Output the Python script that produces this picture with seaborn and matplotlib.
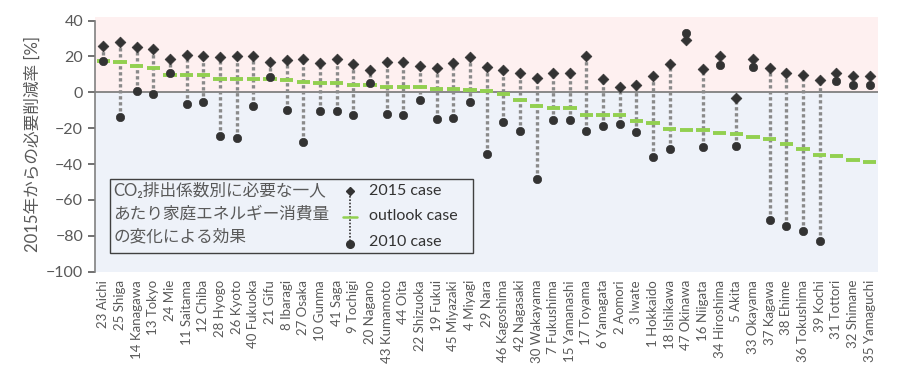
import pandas as pd
import matplotlib.pyplot as plt
import matplotlib.patches as mpatches
import seaborn as sns

# prefecture order on the x axis
prefs = ['23 Aichi', '25 Shiga', '14 Kanagawa', '13 Tokyo', '24 Mie', '11 Saitama', '12 Chiba',
         '28 Hyogo', '26 Kyoto', '40 Fukuoka', '21 Gifu', '8 Ibaragi', '27 Osaka', '10 Gunma',
         '41 Saga', '9 Tochigi', '20 Nagano', '43 Kumamoto', '44 Oita', '22 Shizuoka', '19 Fukui',
         '45 Miyazaki', '4 Miyagi', '29 Nara', '46 Kagoshima', '42 Nagasaki', '30 Wakayama',
         '7 Fukushima', '15 Yamanashi', '17 Toyama', '6 Yamagata', '2 Aomori', '3 Iwate',
         '1 Hokkaido', '18 Ishikawa', '47 Okinawa', '16 Niigata', '34 Hiroshima', '5 Akita',
         '33 Okayama', '37 Kagawa', '38 Ehime', '36 Tokushima', '39 Kochi', '31 Tottori',
         '32 Shimane', '35 Yamaguchi']

case_2015 = [25.6, 28.3, 25.0, 23.9, 18.3, 20.9, 20.0, 19.4, 20.0, 20.0, 17.0, 17.8, 18.3, 16.3,
             18.3, 15.6, 12.4, 17.0, 17.0, 14.6, 13.5, 16.1, 19.4, 13.9, 12.4, 10.6, 7.8,
             10.9, 10.6, 20.2, 7.2, 2.8, 3.9, 8.9, 15.7, 29.4, 12.8, 20.2, -3.1,
             18.5, 13.5, 10.9, 9.4, 6.9, 10.9, 9.1, 9.1]

outlook = [17.2, 16.7, 14.6, 13.5, 9.8, 9.6, 9.6, 7.6, 7.6, 7.6, 7.6, 6.7, 5.9, 5.2,
           5.2, 4.3, 4.3, 3.1, 3.1, 3.1, 2.0, 1.7, 1.1, 0.6, -0.7, -4.4, -7.6,
           -8.9, -8.9, -12.6, -12.6, -12.6, -15.9, -17.0, -20.4, -20.9, -20.9, -22.6, -23.1,
           -25.0, -26.1, -29.1, -31.5, -35.2, -35.6, -37.6, -38.7]

case_2010 = [17.6, -13.9, 0.8, -1.1, 10.9, -6.7, -5.2, -24.4, -25.4, -7.4, 8.3, -9.8, -28.0, -10.7,
             -10.2, -12.6, 5.2, -12.2, -12.6, -4.3, -14.8, -14.1, -5.2, -34.6, -16.7, -21.7, -48.3,
             -15.6, -15.2, -21.7, -18.7, -17.8, -22.4, -36.3, -31.9, 32.8, -30.7, 15.4, -29.8,
             14.3, -71.5, -74.6, -77.6, -83.1, 6.3, 4.3, 4.3]

df = pd.DataFrame({'pref': prefs, 'c2015': case_2015, 'outlook': outlook, 'c2010': case_2010})
df['x'] = range(len(df))

sns.set_style('white')
plt.rcParams['font.family'] = ['Lato', 'Noto Sans CJK JP', 'DejaVu Sans']
grey = '#595959'
dark = '#333333'
green = '#92D050'

fig = plt.figure(figsize=(9, 3.69), dpi=100)
ax = fig.add_axes([0.1056, 0.264, 0.870, 0.690])

# background bands
ax.axhspan(0, 42, color='#FEF0F0', zorder=0, lw=0)
ax.axhspan(-100, 0, color='#EEF2F9', zorder=0, lw=0)
ax.axhline(0, color='#808080', lw=1.3, zorder=1)

# dotted connectors
ax.vlines(df['x'], df['c2010'], df['c2015'], colors='#8a8a8a', linestyles=(0, (1, 0.8)),
          lw=2.4, zorder=2)
# outlook dashes
ax.hlines(df['outlook'], df['x'] - 0.4, df['x'] + 0.4, colors=green, lw=2.8, zorder=3)

sns.scatterplot(data=df, x='x', y='c2015', marker='D', s=30, color=dark, edgecolor=dark,
                linewidth=0.5, ax=ax, zorder=4)
sns.scatterplot(data=df, x='x', y='c2010', marker='o', s=36, color=dark, edgecolor=dark,
                linewidth=0.5, ax=ax, zorder=4)

ax.set_xlim(-0.5, len(df) - 0.5)
ax.set_ylim(-100, 42)
ax.set_yticks(range(-100, 41, 20))
ax.set_xticks(df['x'])
ax.set_xticklabels(df['pref'], rotation=90, fontsize=9.5, color=grey)
ax.tick_params(axis='y', labelsize=11.5, colors=grey, length=5, width=1.2, direction='out', left=True)
ax.tick_params(axis='x', length=0, pad=6)
for lab in ax.get_yticklabels():
    lab.set_color(grey)
ax.set_xlabel('')
ax.set_ylabel('2015年からの必要削減率 [%]', fontsize=12, color=grey, labelpad=4)

for s in ['top', 'right', 'bottom']:
    ax.spines[s].set_visible(False)
ax.spines['left'].set_color('#808080')
ax.spines['left'].set_linewidth(1.2)
ax.spines['left'].set_bounds(-100, 40)

# legend box with explanatory text
box = mpatches.Rectangle((0.019, 0.073), 0.464, 0.291, transform=ax.transAxes,
                         facecolor='#EEF2F9', edgecolor='#404040', lw=1.0, zorder=5)
ax.add_patch(box)
ax.text(0.023, 0.318, 'CO₂排出係数別に必要な一人', transform=ax.transAxes, fontsize=12,
        color=grey, va='center', zorder=6)
ax.text(0.023, 0.228, 'あたり家庭エネルギー消費量', transform=ax.transAxes, fontsize=12,
        color=grey, va='center', zorder=6)
ax.text(0.023, 0.140, 'の変化による効果', transform=ax.transAxes, fontsize=12,
        color=grey, va='center', zorder=6)

gx = 0.326
ax.plot([gx, gx], [0.12, 0.315], transform=ax.transAxes, color=dark, lw=1.2,
        ls=(0, (1, 1)), zorder=6)
ax.plot([gx], [0.315], transform=ax.transAxes, marker='D', ms=4.5, color=dark, zorder=7)
ax.plot([gx], [0.11], transform=ax.transAxes, marker='o', ms=5.5, color=dark, zorder=7)
ax.plot([gx - 0.009, gx + 0.009], [0.215, 0.215], transform=ax.transAxes, color=green,
        lw=1.8, zorder=7)
ax.text(0.35, 0.318, '2015 case', transform=ax.transAxes, fontsize=11.5, color=dark,
        va='center', zorder=6)
ax.text(0.35, 0.218, 'outlook case', transform=ax.transAxes, fontsize=11.5, color=dark,
        va='center', zorder=6)
ax.text(0.35, 0.115, '2010 case', transform=ax.transAxes, fontsize=11.5, color=dark,
        va='center', zorder=6)

fig.savefig('out.png', dpi=100)
